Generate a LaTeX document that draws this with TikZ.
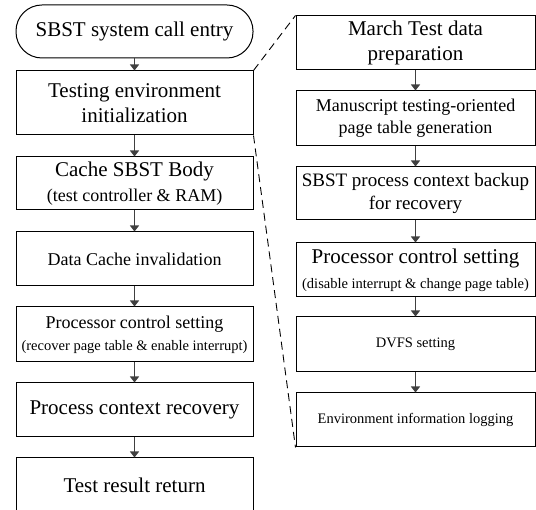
\documentclass[tikz,border=0pt]{standalone}
\usepackage{fontspec}
\setmainfont{Liberation Serif}
\usetikzlibrary{arrows.meta}
\newcommand{\bigtxt}{\fontsize{21}{25}\selectfont}
\newcommand{\midtxt}{\fontsize{18}{22}\selectfont}
\newcommand{\smalltxt}{\fontsize{14.5}{18}\selectfont}

\begin{document}
\begin{tikzpicture}[x=1pt, y=-1pt,
		box/.style={draw, line width=1pt, align=center, minimum width=237pt, minimum height=54pt, inner sep=2pt},
		rbox/.style={box, minimum width=239pt},
		flow/.style={draw=black!75, line width=1.2pt, -{Triangle[width=9pt,length=6pt]}},
		link/.style={line width=0.9pt, dash pattern=on 8pt off 5pt}]
		\useasboundingbox (0,0) rectangle (536,510);
		% main flow
		\node[box, rounded corners=26pt, minimum height=53pt, font=\bigtxt] (entry) at (134.5,31.5) {SBST system call entry};
		\node[box, minimum height=64pt, font=\bigtxt] (init) at (134.5,103) {Testing environment\\initialization};
		\node[box, minimum height=53pt, font=\bigtxt] (body) at (134.5,183.5) {Cache SBST Body\\\midtxt (test controller \& RAM)};
		\node[box, font=\midtxt] (dcache) at (134.5,259) {Data Cache invalidation};
		\node[box, minimum height=55pt, font=\midtxt] (ctrlL) at (134.5,334.5) {Processor control setting\\\smalltxt (recover page table \& enable interrupt)};
		\node[box, font=\bigtxt] (recov) at (134.5,410) {Process context recovery};
		\node[box, font=\bigtxt] (result) at (134.5,485) {Test result return};
		% initialization details
		\node[rbox, font=\bigtxt] (march) at (415.5,43) {March Test data\\preparation};
		\node[rbox, minimum height=55pt, font=\midtxt] (ptable) at (415.5,118.5) {Manuscript testing-oriented\\page table generation};
		\node[rbox, minimum height=53pt, font=\fontsize{19}{23}\selectfont] (backup) at (415.5,193.5) {SBST process context backup\\for recovery};
		\node[rbox, font=\bigtxt] (ctrlR) at (415.5,270) {Processor control setting\\\smalltxt (disable interrupt \& change page table)};
		\node[rbox, minimum height=55pt, font=\smalltxt] (dvfs) at (415.5,344.5) {DVFS setting};
		\node[rbox, font=\smalltxt] (envlog) at (415.5,420) {Environment information logging};

		\draw[flow] (entry) -- (init);
		\draw[flow] (init) -- (body);
		\draw[flow] (body) -- (dcache);
		\draw[flow] (dcache) -- (ctrlL);
		\draw[flow] (ctrlL) -- (recov);
		\draw[flow] (recov) -- (result);
		\draw[flow] (march) -- (ptable);
		\draw[flow] (ptable) -- (backup);
		\draw[flow] (backup) -- (ctrlR);
		\draw[flow] (ctrlR) -- (dvfs);
		\draw[flow] (dvfs) -- (envlog);
		\draw[link] (init.north east) -- (march.north west);
		\draw[link] (init.south east) -- (envlog.south west);
	\end{tikzpicture}
\end{document}
